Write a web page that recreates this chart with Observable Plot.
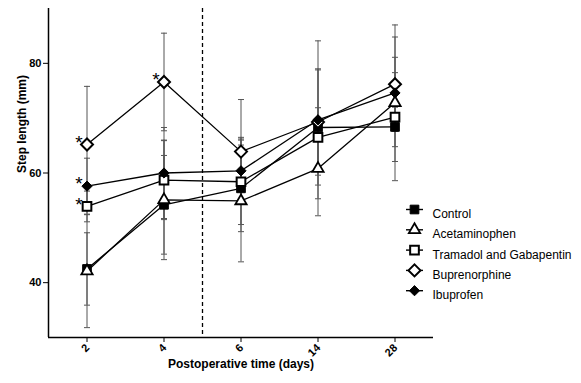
<!DOCTYPE html>
<html><head><meta charset="utf-8">
<script src="https://cdn.jsdelivr.net/npm/d3@7"></script>
<script src="https://cdn.jsdelivr.net/npm/@observablehq/plot@0.6"></script>
<style>
html,body{margin:0;padding:0;background:#fff;}
#chart{width:581px;height:383px;}
</style>
</head><body><div id="chart"></div>
<script>
// ---- data ----
const days = ["2", "4", "6", "14", "28"];
const seriesNames = ["Control", "Acetaminophen", "Tramadol and Gabapentin", "Buprenorphine", "Ibuprofen"];

const controlMean = [42.5, 54.2, 57.2, 68.3, 68.4];
const controlErr  = [6.6, 9.0, 7.9, 10.5, 3.6];
const acetaminophenMean = [42.1, 55.1, 54.9, 60.8, 72.8];
const acetaminophenErr  = [10.3, 10.9, 11.1, 8.6, 14.2];
const tramadolMean = [53.9, 58.7, 58.4, 66.5, 70.2];
const tramadolErr  = [2.8, 7.2, 7.8, 5.4, 8.1];
const buprenorphineMean = [65.2, 76.6, 63.9, 69.3, 76.2];
const buprenorphineErr  = [10.6, 8.9, 9.5, 9.7, 8.6];
const ibuprofenMean = [57.6, 60.0, 60.4, 69.7, 74.6];
const ibuprofenErr  = [5.1, 8.3, 6.1, 14.4, 6.5];

const yTicks = [40, 60, 80];
const yDomain = [30, 90];
const surgeryBreakIndex = 1.5; // between day 4 and day 6
const significant = [
  ["Buprenorphine", "2"], ["Ibuprofen", "2"], ["Tramadol and Gabapentin", "2"], ["Buprenorphine", "4"]
];

// ---- build table ----
const means = [controlMean, acetaminophenMean, tramadolMean, buprenorphineMean, ibuprofenMean];
const errs = [controlErr, acetaminophenErr, tramadolErr, buprenorphineErr, ibuprofenErr];
const rows = [];
seriesNames.forEach((s, k) => days.forEach((d, i) => rows.push({
  series: s, day: d, xi: i, y: means[k][i], lo: means[k][i] - errs[k][i], hi: means[k][i] + errs[k][i]
})));
const sigRows = significant.map(([s, d]) => rows.find(r => r.series === s && r.day === d));

// ---- styles ----
const styles = {
  "Control": {symbol: "square", fill: "black", r: 4.9, sw: 1},
  "Acetaminophen": {symbol: "triangle", fill: "white", r: 4.2, sw: 1.8},
  "Tramadol and Gabapentin": {symbol: "square", fill: "white", r: 4.9, sw: 2},
  "Buprenorphine": {symbol: "diamond2", fill: "white", r: 5.4, sw: 2},
  "Ibuprofen": {symbol: "diamond2", fill: "black", r: 4.6, sw: 1}
};
const hline = {draw(ctx, size) { const w = Math.sqrt(size) / 2; ctx.moveTo(-w, 0); ctx.lineTo(w, 0); }};
const font = "'Liberation Sans', Arial, sans-serif";
const xIdx = d3.range(days.length);

const marks = [];
// error bars
marks.push(Plot.ruleX(rows, {x: "xi", y1: "lo", y2: "hi", stroke: "#555", strokeWidth: 1}));
marks.push(Plot.dot(rows, {x: "xi", y: "lo", symbol: hline, r: 3.4, fill: "none", stroke: "#555", strokeWidth: 1}));
marks.push(Plot.dot(rows, {x: "xi", y: "hi", symbol: hline, r: 3.4, fill: "none", stroke: "#555", strokeWidth: 1}));
// dashed separator
marks.push(Plot.ruleX([surgeryBreakIndex], {stroke: "black", strokeWidth: 1.3, strokeDasharray: "4,3"}));
// lines
marks.push(Plot.line(rows, {x: "xi", y: "y", z: "series", stroke: "black", strokeWidth: 1.3}));
// markers
seriesNames.forEach(s => {
  const st = styles[s];
  marks.push(Plot.dot(rows.filter(r => r.series === s), {
    x: "xi", y: "y", symbol: st.symbol, r: st.r, fill: st.fill, stroke: "black", strokeWidth: st.sw
  }));
});
// significance asterisks
marks.push(Plot.text(sigRows, {x: "xi", y: "y", text: () => "*", dx: -8, dy: -2, fontSize: 19, fill: "#000", stroke: "none"}));
// axes
marks.push(Plot.axisY(yTicks, {tickSize: 5, tickPadding: 2, fontSize: 11, fontWeight: "bold", label: null}));
marks.push(Plot.axisX(xIdx, {tickFormat: () => "", tickSize: 5, label: null}));
marks.push(Plot.text(xIdx, {x: d => d, text: i => days[i], frameAnchor: "bottom", rotate: -45, textAnchor: "end", dx: 3, dy: 11, fontSize: 11, fontWeight: "bold", fill: "black"}));
marks.push(Plot.ruleX([-0.5], {stroke: "black", strokeWidth: 1.5}));
marks.push(Plot.ruleY([yDomain[0]], {stroke: "black", strokeWidth: 1.5}));
// axis titles
marks.push(Plot.text(["Step length (mm)"], {frameAnchor: "left", dx: -26, rotate: -90, fontSize: 12, fontWeight: "bold", fill: "black"}));
marks.push(Plot.text(["Postoperative time (days)"], {frameAnchor: "bottom", dy: 30, fontSize: 12, fontWeight: "bold", fill: "black"}));
// legend
seriesNames.forEach((s, k) => {
  const st = styles[s];
  const dy = 201 + 20.3 * k;
  marks.push(Plot.dot([s], {frameAnchor: "top-left", dx: 366, dy, symbol: hline, r: 9.6, fill: "none", stroke: "black", strokeWidth: 1.4}));
  marks.push(Plot.dot([s], {frameAnchor: "top-left", dx: 366, dy, symbol: st.symbol, r: st.r, fill: st.fill, stroke: "black", strokeWidth: st.sw}));
  marks.push(Plot.text([s], {frameAnchor: "top-left", dx: 384, dy, text: d => d, textAnchor: "start", fontSize: 12, fill: "black"}));
});

const chart = Plot.plot({
  width: 581, height: 383,
  marginLeft: 48, marginRight: 148, marginTop: 8, marginBottom: 46,
  style: {fontFamily: font, background: "#fff", color: "black"},
  x: {type: "linear", domain: [-0.5, days.length - 0.5], axis: null},
  y: {domain: yDomain, axis: null},
  marks
});
document.getElementById("chart").appendChild(chart);
</script>
</body></html>
